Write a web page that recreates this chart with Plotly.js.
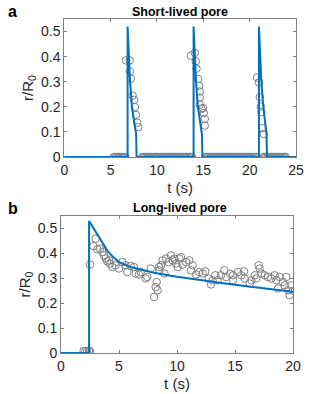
<!DOCTYPE html>
<html>
<head>
<meta charset="utf-8">
<script src="https://cdn.plot.ly/plotly-3.0.1.min.js"></script>
<style>
  html, body { margin: 0; padding: 0; background: #fff; }
  #fig { width: 329px; height: 394px; }
</style>
</head>
<body>
<div id="fig"></div>
<script>
// panel a: short-lived pore, frames with an open pore
var shortT = [6.65, 7.05, 7.08, 7.19, 7.37, 7.55, 7.62, 7.73, 7.87, 7.98,
  13.65, 14.08, 14.19, 14.26, 14.44, 14.55, 14.62, 14.62, 14.62, 14.8, 14.98, 15.05, 15.16, 15.16,
  20.8, 21.01, 21.09, 21.2, 21.27, 21.38, 21.52];
var shortR = [0.385, 0.385, 0.341, 0.312, 0.245, 0.228, 0.199, 0.168, 0.137, 0.119,
  0.404, 0.415, 0.381, 0.352, 0.311, 0.284, 0.261, 0.237, 0.208, 0.192, 0.195, 0.175, 0.152, 0.125,
  0.317, 0.297, 0.239, 0.201, 0.179, 0.115, 0.092];
// panel a: frames with a closed pore
var closedT = [5.4, 5.55, 5.7, 5.85, 6.0, 6.15, 6.3, 6.45, 6.6,
  8.4, 8.55, 8.7, 8.85, 9.0, 9.15, 9.3, 9.45, 9.6, 9.75, 9.9, 10.05, 10.2, 10.35, 10.5,
  10.65, 10.8, 10.95, 11.1, 11.25, 11.4, 11.55, 11.7, 11.85, 12.0, 12.15, 12.3, 12.45,
  12.6, 12.75, 12.9, 13.05, 13.2, 13.35, 13.5, 13.65, 13.8,
  15.2, 15.35, 15.5, 15.65, 15.8, 15.95, 16.1, 16.25, 16.4, 16.55, 16.7, 16.85, 17.0,
  17.15, 17.3, 17.45, 17.6, 17.75, 17.9, 18.05, 18.2, 18.35, 18.5, 18.65, 18.8, 18.95,
  19.1, 19.25, 19.4, 19.55, 19.7, 19.85, 20.0, 20.15, 20.3, 20.45, 20.6, 20.75,
  21.5, 21.65, 21.8, 21.95, 22.1, 22.25, 22.4, 22.55, 22.7, 22.85, 23.0, 23.15, 23.3,
  23.45, 23.6, 23.75, 23.9];
var closedR = [0, 0, 0, 0, 0, 0, 0, 0, 0,
  0, 0, 0, 0, 0, 0, 0, 0, 0, 0, 0, 0, 0, 0, 0,
  0, 0, 0, 0, 0, 0, 0, 0, 0, 0, 0, 0, 0,
  0, 0, 0, 0, 0, 0, 0, 0, 0,
  0, 0, 0, 0, 0, 0, 0, 0, 0, 0, 0, 0, 0,
  0, 0, 0, 0, 0, 0, 0, 0, 0, 0, 0, 0, 0,
  0, 0, 0, 0, 0, 0, 0, 0, 0, 0, 0, 0,
  0, 0, 0, 0, 0, 0, 0, 0, 0, 0, 0, 0, 0,
  0, 0, 0, 0];
var shortFitT = [0, 6.83, 6.83, 6.95, 7.08, 7.3, 7.55, 7.75, 7.8,
  13.95, 13.95, 14.07, 14.2, 14.42, 14.65, 14.85, 14.9,
  21.0, 21.0, 21.12, 21.25, 21.47, 21.7, 21.82, 21.87, 25];
var shortFitR = [0, 0, 0.52, 0.42, 0.31, 0.2, 0.13, 0.09, 0,
  0, 0.52, 0.42, 0.31, 0.2, 0.13, 0.09, 0,
  0, 0.52, 0.42, 0.31, 0.2, 0.13, 0.09, 0, 0];

// panel b: long-lived pore
var longT = [1.95, 2.1, 2.25, 2.4, 2.5,
  2.5, 2.79, 2.99, 3.13, 3.36, 3.56, 3.71, 3.85, 3.99, 4.14, 4.22, 4.42, 4.71, 5.0,
  5.29, 5.57, 5.72, 6.0, 6.29, 6.44, 6.72, 6.87, 7.3, 7.44, 7.73, 8.02, 8.16, 8.25,
  8.33, 8.45, 8.48, 8.62, 8.76, 8.91, 9.05, 9.28, 9.48, 9.63, 9.77, 9.91, 10.06,
  10.2, 10.34, 10.49, 10.78, 11.06, 11.21, 11.35, 11.64, 11.92, 12.21, 12.44, 12.73,
  12.93, 13.07, 13.3, 13.5, 13.79, 14.08, 14.22, 14.57, 14.83, 14.83, 15.26, 15.55,
  15.78, 15.83, 16.27, 16.41, 16.7, 16.84, 17.04, 17.13, 17.27, 17.56, 17.84, 18.13,
  18.42, 18.56, 18.71, 18.85, 19.14, 19.28, 19.42, 19.57, 19.71, 19.86, 20.0];
var longR = [0.008, 0.008, 0.008, 0.008, 0.008,
  0.355, 0.429, 0.459, 0.416, 0.419, 0.405, 0.392, 0.379, 0.368, 0.372, 0.359, 0.345, 0.352, 0.339,
  0.365, 0.352, 0.325, 0.349, 0.345, 0.319, 0.315, 0.325, 0.299, 0.305, 0.339, 0.225, 0.265, 0.285,
  0.252, 0.345, 0.332, 0.352, 0.372, 0.319, 0.379, 0.365, 0.392, 0.372, 0.379, 0.359, 0.345,
  0.379, 0.385, 0.355, 0.365, 0.372, 0.332, 0.352, 0.315, 0.325, 0.319, 0.328, 0.299,
  0.275, 0.292, 0.312, 0.292, 0.312, 0.332, 0.305, 0.318, 0.312, 0.292, 0.325, 0.312,
  0.328, 0.299, 0.279, 0.292, 0.312, 0.299, 0.352, 0.339, 0.319, 0.312, 0.305, 0.299,
  0.312, 0.292, 0.259, 0.305, 0.285, 0.272, 0.305, 0.252, 0.232, 0.272, 0.25];
var longFitT = [0, 2.42, 2.42, 3, 3.5, 4, 4.5, 5, 6, 7, 8, 10, 12, 14, 16, 18, 20];
var longFitR = [0, 0, 0.53, 0.485, 0.445, 0.41, 0.385, 0.365, 0.345, 0.332, 0.322, 0.306, 0.292, 0.28, 0.268, 0.257, 0.246];

var W = 329, H = 394;
var blue = '#0072BD';
var grey = '#808080';
var font = 'Liberation Sans, Arial, Helvetica, sans-serif';

function px(x) { return x / W; }
function py(y) { return 1 - y / H; }

var circles = {
  symbol: 'circle-open', size: 7.5, color: grey,
  line: {color: grey, width: 1}
};

var data = [
  {x: closedT, y: closedR, mode: 'markers', type: 'scatter', marker: circles,
   xaxis: 'x', yaxis: 'y', hoverinfo: 'skip'},
  {x: shortT, y: shortR, mode: 'markers', type: 'scatter', marker: circles,
   xaxis: 'x', yaxis: 'y', hoverinfo: 'skip'},
  {x: shortFitT, y: shortFitR, mode: 'lines', type: 'scatter',
   line: {color: blue, width: 2}, xaxis: 'x', yaxis: 'y'},
  {x: longT, y: longR, mode: 'markers', type: 'scatter', marker: circles,
   xaxis: 'x2', yaxis: 'y2', hoverinfo: 'skip'},
  {x: longFitT, y: longFitR, mode: 'lines', type: 'scatter',
   line: {color: blue, width: 2}, xaxis: 'x2', yaxis: 'y2'}
];

function xax(range, dom, anchor) {
  return {
    domain: dom, range: range, anchor: anchor, dtick: 5,
    showline: true, linecolor: '#7f7f7f', linewidth: 1, mirror: 'ticks',
    ticks: 'inside', ticklen: 3, tickcolor: '#7f7f7f',
    showgrid: false, zeroline: false,
    tickfont: {family: font, size: 14, color: '#262626'},
    title: {text: 't (s)', standoff: 5, font: {family: font, size: 15, color: '#262626'}}
  };
}
function yax(dom, anchor) {
  return {
    domain: dom, range: [0, 0.55], anchor: anchor, dtick: 0.1,
    showline: true, linecolor: '#7f7f7f', linewidth: 1, mirror: 'ticks',
    ticks: 'inside', ticklen: 3, tickcolor: '#7f7f7f',
    showgrid: false, zeroline: false,
    tickfont: {family: font, size: 14, color: '#262626'},
    title: {text: 'r/R<sub>0</sub>', standoff: 3, font: {family: font, size: 15, color: '#262626'}}
  };
}

var layout = {
  width: W, height: H, autosize: false,
  margin: {l: 0, r: 0, t: 0, b: 0},
  paper_bgcolor: '#fff', plot_bgcolor: '#fff',
  showlegend: false,
  xaxis: xax([0, 25], [px(64.3), px(296)], 'y'),
  yaxis: yax([py(157), py(19)], 'x'),
  xaxis2: xax([0, 20], [px(61), px(293)], 'y2'),
  yaxis2: yax([py(353), py(216)], 'x2'),
  annotations: [
    {text: '<b>a</b>', x: px(6), y: py(12), xref: 'paper', yref: 'paper',
     xanchor: 'left', yanchor: 'middle', showarrow: false,
     font: {family: font, size: 16, color: '#000'}},
    {text: '<b>Short-lived pore</b>', x: px(180), y: py(12), xref: 'paper', yref: 'paper',
     xanchor: 'center', yanchor: 'middle', showarrow: false,
     font: {family: font, size: 12.5, color: '#000'}},
    {text: '<b>b</b>', x: px(6), y: py(208), xref: 'paper', yref: 'paper',
     xanchor: 'left', yanchor: 'middle', showarrow: false,
     font: {family: font, size: 16, color: '#000'}},
    {text: '<b>Long-lived pore</b>', x: px(180), y: py(208), xref: 'paper', yref: 'paper',
     xanchor: 'center', yanchor: 'middle', showarrow: false,
     font: {family: font, size: 12.5, color: '#000'}}
  ]
};

Plotly.newPlot('fig', data, layout, {staticPlot: true, displayModeBar: false});
</script>
</body>
</html>
